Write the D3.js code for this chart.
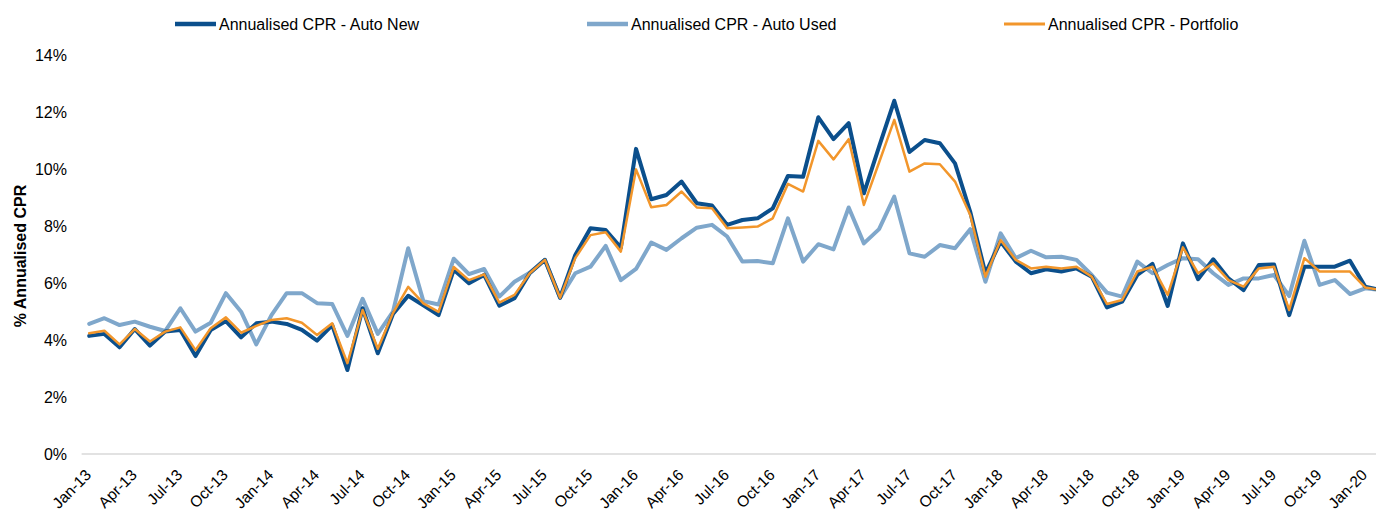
<!DOCTYPE html>
<html>
<head>
<meta charset="utf-8">
<script src="https://cdn.jsdelivr.net/npm/d3@7"></script>
<style>
  html, body { margin: 0; padding: 0; background: #ffffff; overflow: hidden; }
  svg { display: block; }
  text { font-family: "Liberation Sans", Arial, sans-serif; fill: #000; }
</style>
</head>
<body>
<svg id="chart" width="1376" height="512"></svg>
<script>
const categories = [
  "Jan-13","Feb-13","Mar-13","Apr-13","May-13","Jun-13","Jul-13","Aug-13","Sep-13","Oct-13","Nov-13","Dec-13",
  "Jan-14","Feb-14","Mar-14","Apr-14","May-14","Jun-14","Jul-14","Aug-14","Sep-14","Oct-14","Nov-14","Dec-14",
  "Jan-15","Feb-15","Mar-15","Apr-15","May-15","Jun-15","Jul-15","Aug-15","Sep-15","Oct-15","Nov-15","Dec-15",
  "Jan-16","Feb-16","Mar-16","Apr-16","May-16","Jun-16","Jul-16","Aug-16","Sep-16","Oct-16","Nov-16","Dec-16",
  "Jan-17","Feb-17","Mar-17","Apr-17","May-17","Jun-17","Jul-17","Aug-17","Sep-17","Oct-17","Nov-17","Dec-17",
  "Jan-18","Feb-18","Mar-18","Apr-18","May-18","Jun-18","Jul-18","Aug-18","Sep-18","Oct-18","Nov-18","Dec-18",
  "Jan-19","Feb-19","Mar-19","Apr-19","May-19","Jun-19","Jul-19","Aug-19","Sep-19","Oct-19","Nov-19","Dec-19",
  "Jan-20","Feb-20"
];

const autoNew = [
  4.15,4.22,3.75,4.39,3.81,4.30,4.36,3.44,4.36,4.67,4.10,4.59,
  4.65,4.57,4.36,3.98,4.53,2.95,5.12,3.54,4.92,5.56,5.22,4.88,
  6.47,6.00,6.29,5.21,5.47,6.35,6.82,5.49,6.99,7.93,7.87,7.25,
  10.72,8.95,9.10,9.57,8.81,8.73,8.05,8.22,8.28,8.63,9.77,9.74,
  11.83,11.06,11.62,9.16,10.80,12.41,10.61,11.03,10.92,10.21,8.51,6.35,
  7.46,6.76,6.35,6.49,6.41,6.52,6.23,5.15,5.35,6.29,6.68,5.20,
  7.40,6.14,6.84,6.17,5.76,6.64,6.66,4.88,6.58,6.58,6.58,6.79,
  5.88,5.76
];

const autoUsed = [
  4.57,4.77,4.53,4.65,4.47,4.32,5.12,4.30,4.61,5.65,5.00,3.85,
  4.88,5.65,5.65,5.30,5.27,4.15,5.45,4.22,5.00,7.23,5.37,5.25,
  6.86,6.32,6.50,5.53,6.05,6.37,6.82,5.49,6.35,6.58,7.31,6.11,
  6.50,7.43,7.17,7.58,7.95,8.05,7.64,6.76,6.78,6.70,8.28,6.76,
  7.37,7.19,8.66,7.40,7.90,9.04,7.05,6.93,7.34,7.23,7.90,6.05,
  7.75,6.88,7.14,6.91,6.93,6.82,6.29,5.67,5.53,6.76,6.35,6.64,
  6.88,6.84,6.35,5.94,6.17,6.17,6.29,5.55,7.49,5.94,6.11,5.62,
  5.82,5.76
];

const portfolio = [
  4.24,4.33,3.85,4.39,3.95,4.30,4.45,3.65,4.42,4.80,4.26,4.50,
  4.71,4.77,4.61,4.18,4.59,3.19,5.06,3.70,4.95,5.87,5.29,4.99,
  6.57,6.11,6.31,5.32,5.59,6.35,6.82,5.49,6.88,7.69,7.79,7.11,
  10.00,8.67,8.75,9.22,8.66,8.63,7.93,7.96,7.99,8.28,9.49,9.22,
  11.00,10.35,11.06,8.75,10.24,11.74,9.92,10.21,10.18,9.57,8.40,6.23,
  7.52,6.82,6.52,6.58,6.52,6.58,6.23,5.27,5.41,6.41,6.58,5.59,
  7.26,6.35,6.70,6.11,5.88,6.52,6.58,5.06,6.88,6.41,6.41,6.41,
  5.85,5.76
];

const yTicks = [0, 2, 4, 6, 8, 10, 12, 14];
const seriesNames = ["Annualised CPR - Auto New", "Annualised CPR - Auto Used", "Annualised CPR - Portfolio"];
const seriesColors = ["#0b4f8c", "#7fa7cb", "#f2962b"];

const series = [
  { name: seriesNames[0], values: autoNew, color: seriesColors[0], width: 4 },
  { name: seriesNames[1], values: autoUsed, color: seriesColors[1], width: 4 },
  { name: seriesNames[2], values: portfolio, color: seriesColors[2], width: 2.5 }
];

const svg = d3.select("#chart");

const plotLeft = 81.6, plotRight = 81.6 + categories.length * 15.19;
const x = d3.scaleBand().domain(categories).range([plotLeft, plotRight]).paddingInner(0).paddingOuter(0);
const y = d3.scaleLinear().domain([0, 14]).range([454, 55.5]);

// baseline
svg.append("line")
  .attr("x1", plotLeft).attr("x2", plotRight)
  .attr("y1", y(0)).attr("y2", y(0))
  .attr("stroke", "#d9d9d9").attr("stroke-width", 1.5);

// Y axis labels
const yAxis = d3.axisLeft(y).tickValues(yTicks).tickFormat(d => d + "%").tickSize(0).tickPadding(0);
const yG = svg.append("g").attr("transform", "translate(67,0)").call(yAxis);
yG.select(".domain").remove();
yG.selectAll("text").attr("font-size", 16).attr("fill", "#000")
  .style("font-family", "'Liberation Sans', Arial, sans-serif");

// Y axis title
svg.append("text")
  .attr("transform", "translate(26,256) rotate(-90)")
  .attr("text-anchor", "middle")
  .attr("font-size", 16).attr("font-weight", "bold")
  .text("% Annualised CPR");

// X axis labels (every 3rd month)
const xTickCats = categories.filter((d, i) => i % 3 === 0);
const xAxis = d3.axisBottom(x).tickValues(xTickCats).tickSize(0).tickPadding(0);
const xG = svg.append("g").attr("transform", "translate(0,454)").call(xAxis);
xG.select(".domain").remove();
xG.selectAll("text")
  .attr("font-size", 15.5).attr("fill", "#000")
  .style("font-family", "'Liberation Sans', Arial, sans-serif")
  .attr("text-anchor", "end")
  .attr("dy", null)
  .attr("y", 0)
  .attr("transform", "translate(3,22) rotate(-45)");

// Lines
const line = d3.line()
  .x((d, i) => x(categories[i]) + x.bandwidth() / 2)
  .y(d => y(d));

const drawOrder = [1, 0, 2];
drawOrder.forEach(k => {
  const s = series[k];
  svg.append("path")
    .datum(s.values)
    .attr("d", line)
    .attr("fill", "none")
    .attr("stroke", s.color)
    .attr("stroke-width", s.width)
    .attr("stroke-linejoin", "round")
    .attr("stroke-linecap", "round");
});

// Legend
const legendX = [175, 587, 1004];
series.forEach((s, k) => {
  const g = svg.append("g").attr("transform", `translate(${legendX[k]},24)`);
  g.append("line").attr("x1", 0).attr("x2", 41).attr("y1", 0).attr("y2", 0)
    .attr("stroke", s.color).attr("stroke-width", s.width + 0.5);
  g.append("text").attr("x", 44).attr("y", 0).attr("dy", "0.35em")
    .attr("font-size", 16).text(s.name);
});
</script>
</body>
</html>
